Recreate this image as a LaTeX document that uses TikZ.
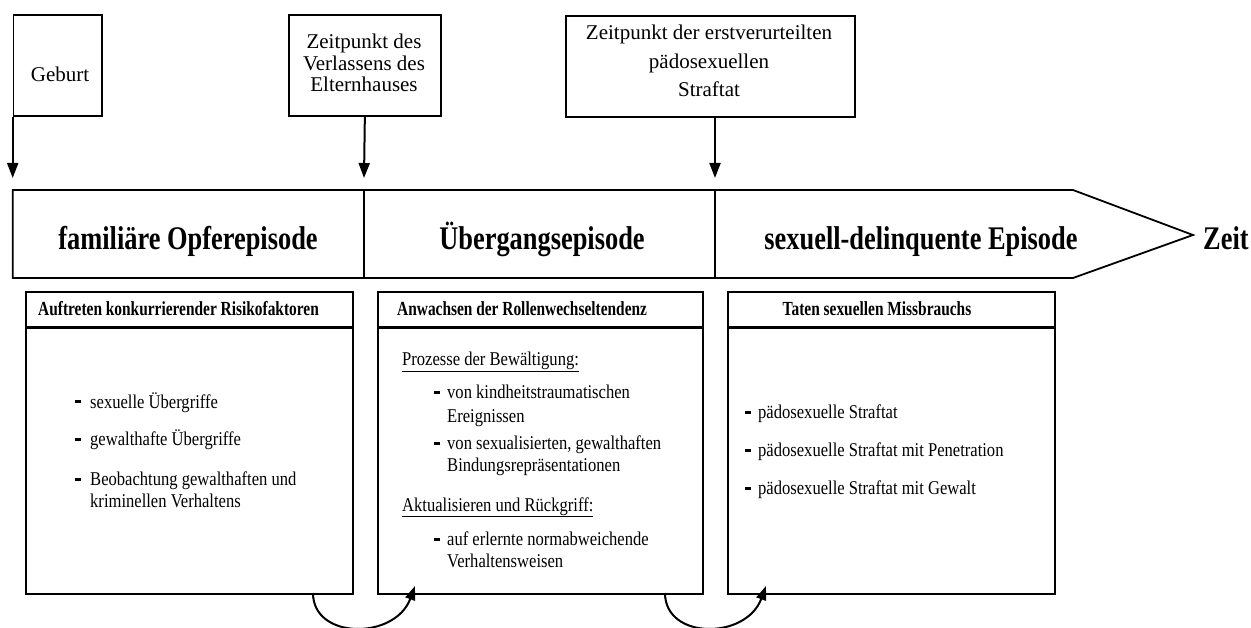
\documentclass[tikz,border=0pt]{standalone}
\usepackage{fontspec}
\setmainfont{Liberation Serif}
\newfontfamily\epfont[FakeStretch=0.8]{Liberation Serif}
\newfontfamily\hdfont[FakeStretch=0.77]{Liberation Serif}
\newfontfamily\itfont[FakeStretch=0.85]{Liberation Serif}
\usetikzlibrary{arrows.meta}
\begin{document}
\begin{tikzpicture}[x=1pt,y=-1pt,
  topbox/.style={draw, line width=1.7pt, inner sep=0pt, minimum height=101pt, anchor=north west},
  toptxt/.style={anchor=base, inner sep=0pt, font=\fontsize{21}{21}\selectfont},
  arr/.style={line width=2pt, -{Triangle[width=11pt,length=15pt]}},
  carr/.style={line width=2pt, -{Triangle[width=10pt,length=14pt]}},
  botbox/.style={draw, line width=2.3pt, minimum height=302pt, anchor=north west, inner sep=0pt},
  ep/.style={anchor=base, inner sep=0pt, font=\epfont\bfseries\fontsize{33}{33}\selectfont},
  hd/.style={anchor=base west, inner sep=0pt, font=\hdfont\bfseries\fontsize{20}{20}\selectfont},
  itx/.style={anchor=base west, inner sep=0pt, font=\itfont\fontsize{19.5}{20}\selectfont},
  itd/.style={fill, inner sep=0pt, minimum width=6pt, minimum height=3pt, anchor=west},
]
\useasboundingbox (0,0) rectangle (1251,628);

% top boxes
\node[topbox, minimum width=88.3pt] (geb) at (12.7,14) {};
\node[toptxt] (gebt) at (60,82) {Geburt};
\node[topbox, minimum width=152pt] (verl) at (288,14) {};
\node[toptxt] (verl1) at (364,49) {Zeitpunkt des};
\node[toptxt] (verl2) at (364,70.5) {Verlassens des};
\node[toptxt] (verl3) at (364,92) {Elternhauses};
\node[topbox, minimum width=289pt] (straf) at (565,15) {};
\node[toptxt] (straf1) at (709,40) {Zeitpunkt der erstverurteilten};
\node[toptxt] (straf2) at (709,68.5) {pädosexuellen};
\node[toptxt] (straf3) at (709,97) {Straftat};

% arrow ends
\coordinate (t1) at (12.7,178);
\coordinate (t2) at (364,178);
\coordinate (t3) at (715,178);
\draw[arr] (geb.south west) -- (t1);
\draw[arr] (verl.south) -- (t2);
\draw[arr] (straf.south -| t3) -- (t3);

% timeline
\draw[line width=1.8pt, line join=miter] (12.7,190) -- (1073,190) -- (1193,235) -- (1073,278) -- (12.7,278) -- cycle;
\draw[line width=1.8pt] (364,190) -- (364,278);
\draw[line width=1.8pt] (715,190) -- (715,278);
\node[ep] (ep1) at (188,250) {familiäre Opferepisode};
\node[ep] (ep2) at (542,250) {Übergangsepisode};
\node[ep] (ep3) at (921,250) {sexuell-delinquente Episode};
\node[ep, anchor=base west] (zeit) at (1203,250) {Zeit};

% bottom boxes
\node[botbox, minimum width=327pt] (b1) at (25,291) {};
\node[botbox, minimum width=325pt] (b2) at (377,291) {};
\node[botbox, minimum width=327pt] (b3) at (727,291) {};
\coordinate (h) at (0,328);
\draw[line width=3pt] (b1.west |- h) -- (b1.east |- h);
\draw[line width=3pt] (b2.west |- h) -- (b2.east |- h);
\draw[line width=3pt] (b3.west |- h) -- (b3.east |- h);

\node[hd] (h1) at (38,316) {Auftreten konkurrierender Risikofaktoren};
\node[hd] (h2) at (397,316) {Anwachsen der Rollenwechseltendenz};
\node[hd, anchor=base] (h3) at (877,316) {Taten sexuellen Missbrauchs};

% box 1 items
\node[itd] (d11) at (75,402) {};
\node[itx] (i11) at (90,408) {sexuelle Übergriffe};
\node[itd] (d12) at (75,439) {};
\node[itx] (i12) at (90,445) {gewalthafte Übergriffe};
\node[itd] (d13) at (75,479) {};
\node[itx] (i13) at (90,485) {Beobachtung gewalthaften und};
\node[itx] (i13b) at (90,507) {kriminellen Verhaltens};

% box 2 items
\node[itx] (p1) at (402,366) {\underline{Prozesse der Bewältigung:}};
\node[itd] (d21) at (434,393) {};
\node[itx] (i21) at (447,399) {von kindheitstraumatischen};
\node[itx] (i21b) at (447,422) {Ereignissen};
\node[itd] (d22) at (434,443) {};
\node[itx] (i22) at (447,449) {von sexualisierten, gewalthaften};
\node[itx] (i22b) at (447,471) {Bindungsrepräsentationen};
\node[itx] (p2) at (402,511) {\underline{Aktualisieren und Rückgriff:}};
\node[itd] (d23) at (434,539) {};
\node[itx] (i23) at (447,545) {auf erlernte normabweichende};
\node[itx] (i23b) at (447,567) {Verhaltensweisen};

% box 3 items
\node[itd] (d31) at (745,412) {};
\node[itx] (i31) at (758,418) {pädosexuelle Straftat};
\node[itd] (d32) at (745,450) {};
\node[itx] (i32) at (758,456) {pädosexuelle Straftat mit Penetration};
\node[itd] (d33) at (745,488) {};
\node[itx] (i33) at (758,494) {pädosexuelle Straftat mit Gewalt};

% curved arrows
\coordinate (c1a) at (313,593);
\coordinate (c1b) at (415,586);
\coordinate (c2a) at (665,593);
\coordinate (c2b) at (766,586);
\draw[carr] (c1a) .. controls (313,640) and (395,640) .. (c1b);
\draw[carr] (c2a) .. controls (665,640) and (746,640) .. (c2b);
\end{tikzpicture}
\end{document}
